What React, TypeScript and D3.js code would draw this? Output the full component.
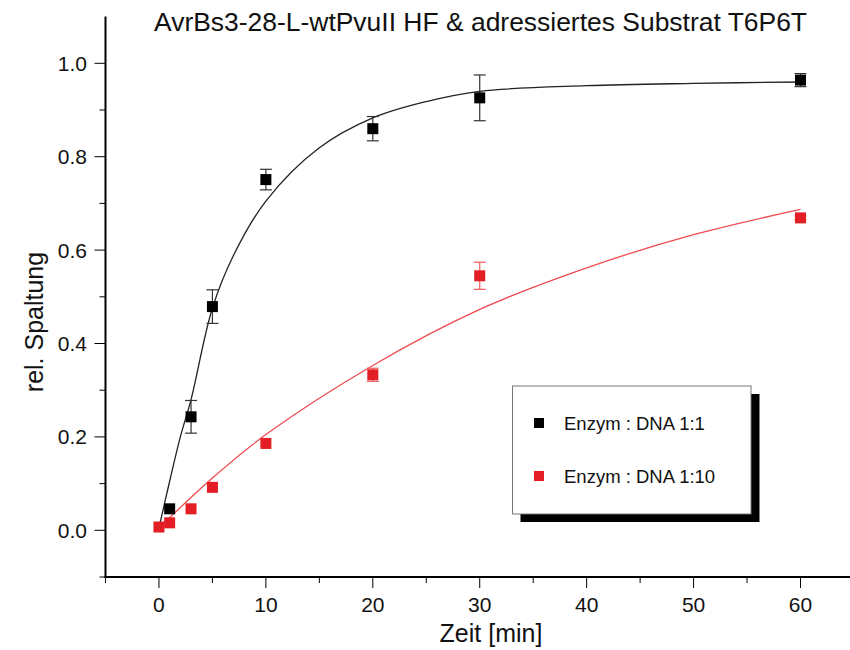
import React from "react";
import * as d3 from "d3";

const title = "AvrBs3-28-L-wtPvuII HF & adressiertes Substrat T6P6T";
const xLabel = "Zeit [min]";
const yLabel = "rel. Spaltung";
const seriesNames = ["Enzym : DNA 1:1", "Enzym : DNA 1:10"];
const seriesColors = ["#000000", "#e31e24"];
const errColors = ["#333333", "#ee5a5e"];
const lineColors = ["#222222", "#f04a4e"];

// Data 1:1
const t1 = [1, 3, 5, 10, 20, 30, 60];
const y1 = [0.046, 0.243, 0.479, 0.751, 0.86, 0.926, 0.964];
const e1 = [0, 0.035, 0.036, 0.022, 0.026, 0.049, 0.014];
// Data 1:10
const t2 = [0, 1, 3, 5, 10, 20, 30, 60];
const y2 = [0.007, 0.016, 0.046, 0.092, 0.186, 0.333, 0.545, 0.669];
const e2 = [0, 0, 0, 0, 0, 0.014, 0.029, 0.004];

// Fit curves
const fit1T = [0, 1, 2, 3, 5, 7, 10, 15, 20, 25, 30, 40, 50, 60];
const fit1Y = [0.005, 0.105, 0.2, 0.28, 0.476, 0.59, 0.705, 0.819, 0.883, 0.918, 0.94, 0.952, 0.957, 0.96];
const fit2T = [0, 5, 10, 20, 30, 40, 50, 60];
const fit2Y = [0.005, 0.112, 0.205, 0.353, 0.473, 0.562, 0.633, 0.687];

const xTicksMajor = [0, 10, 20, 30, 40, 50, 60];
const xTicksMinor = [-5, 5, 15, 25, 35, 45, 55];
const yTicksMajor = [0, 0.2, 0.4, 0.6, 0.8, 1.0];
const yTicksMinor = [-0.1, 0.1, 0.3, 0.5, 0.7, 0.9];

const FONT = "'Liberation Sans', Arial, Helvetica, sans-serif";

export default function App() {
  const W = 850, H = 650;
  const x = d3.scaleLinear().domain([-5, 64.63]).range([105.5, 850]);
  const y = d3.scaleLinear().domain([-0.1, 1.1]).range([577, 16.6]);

  const line = d3
    .line<[number, number]>()
    .x((d) => x(d[0]))
    .y((d) => y(d[1]))
    .curve(d3.curveCatmullRom.alpha(0.5));

  const fits = [
    fit1T.map((t, i) => [t, fit1Y[i]] as [number, number]),
    fit2T.map((t, i) => [t, fit2Y[i]] as [number, number]),
  ];
  const series = [
    { t: t1, v: y1, e: e1 },
    { t: t2, v: y2, e: e2 },
  ];
  const ms = 11;
  const cap = 6;

  return (
    <svg width={W} height={H} style={{ position: "absolute", left: 0, top: 0, background: "#fff" }}>
      <rect x={0} y={0} width={W} height={H} fill="#fff" />
      {/* title */}
      <text
        x={154}
        y={31}
        fontFamily={FONT}
        fontSize={25}
        fill="#111"
        textLength={653}
        lengthAdjust="spacingAndGlyphs"
      >
        {title}
      </text>

      {/* fit lines */}
      {fits.map((f, i) => (
        <path key={"f" + i} d={line(f) || ""} fill="none" stroke={lineColors[i]} strokeWidth={1.3} />
      ))}

      {/* error bars & markers */}
      {series.map((s, si) => (
        <g key={"s" + si}>
          {s.t.map((t, i) =>
            s.e[i] > 0 ? (
              <g key={"e" + i} stroke={errColors[si]} strokeWidth={1.2}>
                <line x1={x(t)} x2={x(t)} y1={y(s.v[i] - s.e[i])} y2={y(s.v[i] + s.e[i])} />
                <line x1={x(t) - cap} x2={x(t) + cap} y1={y(s.v[i] + s.e[i])} y2={y(s.v[i] + s.e[i])} />
                <line x1={x(t) - cap} x2={x(t) + cap} y1={y(s.v[i] - s.e[i])} y2={y(s.v[i] - s.e[i])} />
              </g>
            ) : null
          )}
          {s.t.map((t, i) => (
            <rect
              key={"m" + i}
              x={x(t) - ms / 2}
              y={y(s.v[i]) - ms / 2}
              width={ms}
              height={ms}
              fill={seriesColors[si]}
            />
          ))}
        </g>
      ))}

      {/* axes */}
      <line x1={x(-5)} x2={x(-5)} y1={y(1.1)} y2={y(-0.1) + 1} stroke="#000" strokeWidth={2} />
      <line x1={x(-5) - 1} x2={850} y1={y(-0.1)} y2={y(-0.1)} stroke="#000" strokeWidth={2} />
      {yTicksMajor.map((v) => (
        <g key={"yt" + v}>
          <line x1={x(-5) - 11} x2={x(-5)} y1={y(v)} y2={y(v)} stroke="#000" strokeWidth={1} />
          <text x={87} y={y(v) + 7.5} textAnchor="end" fontFamily={FONT} fontSize={21} fill="#111">
            {d3.format(".1f")(v)}
          </text>
        </g>
      ))}
      {yTicksMinor.map((v) => (
        <line key={"ym" + v} x1={x(-5) - 6} x2={x(-5)} y1={y(v)} y2={y(v)} stroke="#000" strokeWidth={1} />
      ))}
      {xTicksMajor.map((v) => (
        <g key={"xt" + v}>
          <line x1={x(v)} x2={x(v)} y1={y(-0.1)} y2={y(-0.1) + 11} stroke="#000" strokeWidth={1} />
          <text x={x(v)} y={612} textAnchor="middle" fontFamily={FONT} fontSize={21} fill="#111">
            {v}
          </text>
        </g>
      ))}
      {xTicksMinor.map((v) => (
        <line key={"xm" + v} x1={x(v)} x2={x(v)} y1={y(-0.1)} y2={y(-0.1) + 6} stroke="#000" strokeWidth={1} />
      ))}
      <text x={491} y={642} textAnchor="middle" fontFamily={FONT} fontSize={25} fill="#111">
        {xLabel}
      </text>
      <text
        transform={`translate(43,322) rotate(-90)`}
        textAnchor="middle"
        fontFamily={FONT}
        fontSize={25}
        fill="#111"
      >
        {yLabel}
      </text>

      {/* legend */}
      <rect x={520.5} y={394} width={239} height={128} fill="#000" />
      <rect x={512.5} y={386} width={238.5} height={128} fill="#fff" stroke="#777" strokeWidth={1} />
      {seriesNames.map((n, i) => (
        <g key={"lg" + i}>
          <rect x={534} y={418 + i * 53} width={10} height={10} fill={seriesColors[i]} />
          <text x={564} y={429.5 + i * 53} fontFamily={FONT} fontSize={18.5} fill="#111">
            {n}
          </text>
        </g>
      ))}
    </svg>
  );
}
